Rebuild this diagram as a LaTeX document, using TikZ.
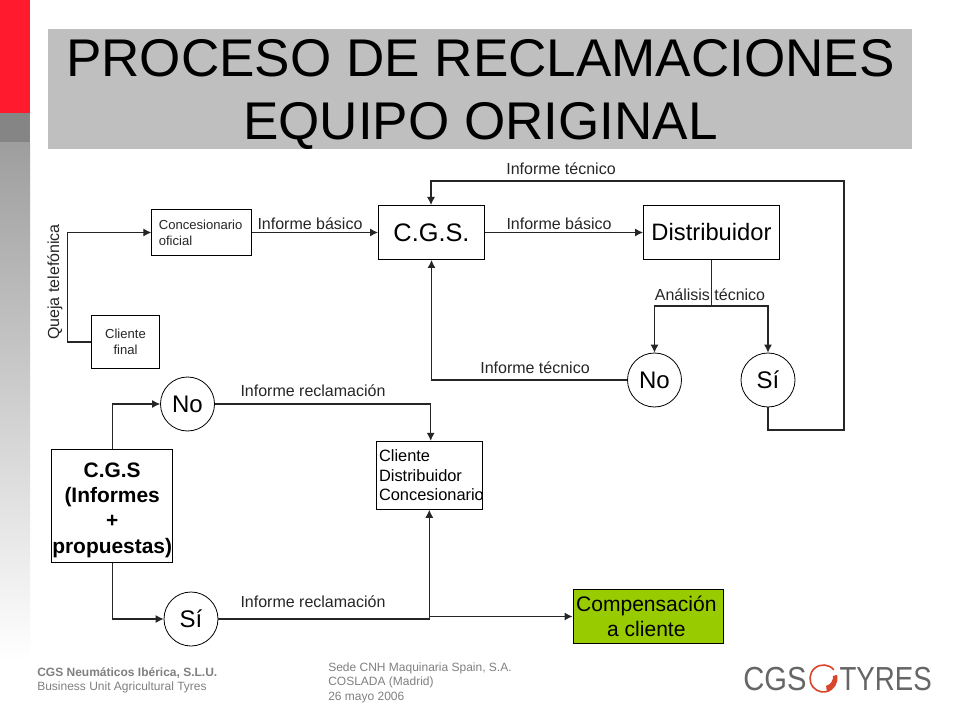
\documentclass[tikz,border=0pt]{standalone}
\usepackage{fontspec}
\setmainfont{Liberation Sans}
\usetikzlibrary{arrows.meta}
\definecolor{redbar}{HTML}{FF1A2E}
\definecolor{titlegray}{HTML}{BFBFBF}
\definecolor{compgreen}{HTML}{99CC00}
\definecolor{foot}{HTML}{808080}
\definecolor{logogray}{HTML}{666666}
\definecolor{logored}{HTML}{D8452A}
\tikzset{
  x=0.75pt,y=-0.75pt,
  box/.style={draw=black,line width=0.75pt,fill=white,inner sep=0pt,align=center},
  circ/.style={draw=black,line width=0.6pt,fill=white,circle,minimum size=40.5pt,inner sep=0pt,font=\fontsize{18}{20}\selectfont},
  conn/.style={line width=0.8pt,draw=black!85},
  arr/.style={conn,-{Latex[length=6pt,width=6pt]}},
  lab/.style={font=\fontsize{12}{14}\selectfont,text=black!85,inner sep=0pt},
  small/.style={font=\fontsize{9.8}{12}\selectfont,text=black!85},
  footer/.style={font=\fontsize{9}{10.8}\selectfont,text=foot,inner sep=0pt,align=left,anchor=west},
}
\begin{document}
\begin{tikzpicture}
\useasboundingbox (0,0) rectangle (960,720);
\fill[white] (0,0) rectangle (960,720);
\fill[redbar] (0,0) rectangle (30,113);
\fill[black!48] (0,113) rectangle (30,143);
\shade[top color=black!38,bottom color=white] (0,143) rectangle (30,660);
\fill[titlegray] (48,29) rectangle (912,149);
\node[font=\fontsize{39.8}{47}\selectfont,align=center,inner sep=0pt] (title) at (480.5,94.5) {PROCESO DE RECLAMACIONES\\EQUIPO ORIGINAL};

% nodes
\node[box,minimum width=74.5pt,minimum height=34pt,small,align=left,text width=64pt] (conc) at (201.5,232.5) {Concesionario\\oficial};
\node[box,minimum width=51pt,minimum height=40pt,small] (cli) at (125.5,342) {Cliente\\final};
\node[box,minimum width=79.5pt,minimum height=40.5pt,font=\fontsize{19}{21}\selectfont] (cgs) at (431.5,232.5) {C.G.S.};
\node[box,minimum width=102pt,minimum height=40.5pt,font=\fontsize{17.8}{20}\selectfont] (dist) at (711.5,232.5) {Distribuidor};
\node[circ] (no1) at (654.5,380) {No};
\node[circ] (si1) at (768,380) {Sí};
\node[circ] (no2) at (187.5,404) {No};
\node[circ] (si2) at (191,619) {Sí};
\node[box,minimum width=91pt,minimum height=85pt] (inf) at (112.2,506) {};
\node[font=\bfseries\fontsize{15.7}{19}\selectfont,align=center,inner sep=0pt] (inftext) at (112.2,510) {C.G.S\\(Informes\\+\\propuestas)};
\node[box,minimum width=79.5pt,minimum height=51pt,font=\fontsize{12.3}{14.6}\selectfont,align=left,text width=76pt] (ccd) at (429.7,475.3) {Cliente\\Distribuidor\\Concesionario};
\node[box,fill=compgreen,minimum width=112.5pt,minimum height=40pt,font=\fontsize{15.8}{18.7}\selectfont] (comp) at (648,616.5) {Compensación\hspace*{2.5pt}\\a cliente\hspace*{2.5pt}};

% junctions
\coordinate (j1) at (711.5,306);
\coordinate (j2) at (429.3,617.7);
\coordinate (j3) at (429.3,616.5);
\coordinate (ja) at (67.5,342);
\coordinate (jb) at (844,430);
\coordinate (jc) at (431,181);
\coordinate (jd) at (430.7,404);

% connectors
\draw[arr] (cli.west) -- (ja) |- (conc.west);
\draw[arr] (conc.east) -- (cgs.west);
\draw[arr] (cgs.east) -- (dist.west);
\draw[conn] (dist.south) -- (j1);
\draw[arr] (j1) -| (no1.north);
\draw[arr] (j1) -| (si1.north);
\draw[arr] (no1.west) -| (cgs.south);
\draw[arr] (si1.south) |- (jb) |- (jc) -- (cgs.north -| jc);
\draw[arr] (inf.north) |- (no2.west);
\draw[arr] (inf.south) |- (si2.west);
\draw[arr] (no2.east) -- (jd) -- (ccd.north -| jd);
\draw[arr] (si2.east) -- (si2.east -| j2) -- (ccd.south -| j2);
\draw[arr] (j3) -- (comp.west);

% labels
\node[lab] (l1) at (561,169) {Informe técnico};
\node[lab] (l2) at (310,224) {Informe básico};
\node[lab] (l3) at (559,224) {Informe básico};
\node[lab] (l4) at (710,295) {Análisis técnico};
\node[lab] (l5) at (535,368) {Informe técnico};
\node[lab] (l6) at (313,391) {Informe reclamación};
\node[lab] (l7) at (313,601.5) {Informe reclamación};
\node[lab,rotate=90] (l8) at (55,282) {Queja telefónica};

% footer
\node[footer] (f1) at (37,673) {\textbf{CGS Neumáticos Ibérica, S.L.U.}};
\node[footer] (f2) at (37,687) {Business Unit Agricultural Tyres};
\node[footer] (f3) at (328,682.5) {Sede CNH Maquinaria Spain, S.A.\\COSLADA (Madrid)\\26 mayo 2006};

% logo
\node[font=\fontsize{25}{25}\selectfont,text=logogray,inner sep=0pt,anchor=west] (lg1) at (743,679) {\scalebox{0.875}[1]{CGS}};
\node[font=\fontsize{25}{25}\selectfont,text=logogray,inner sep=0pt,anchor=east] (lg2) at (932,679) {\scalebox{0.83}[1]{TYRES}};
\draw[logored,line width=1.2pt] (823.5,678.5) ++(-40:13.5) arc[start angle=-40,end angle=-295,radius=13.5];
\fill[logored] (823.5,678.5) ++(75:14) arc[start angle=75,end angle=-15,radius=14] -- ++(-4,1) arc[start angle=-5,end angle=75,radius=9.5] -- cycle;
\end{tikzpicture}
\end{document}
